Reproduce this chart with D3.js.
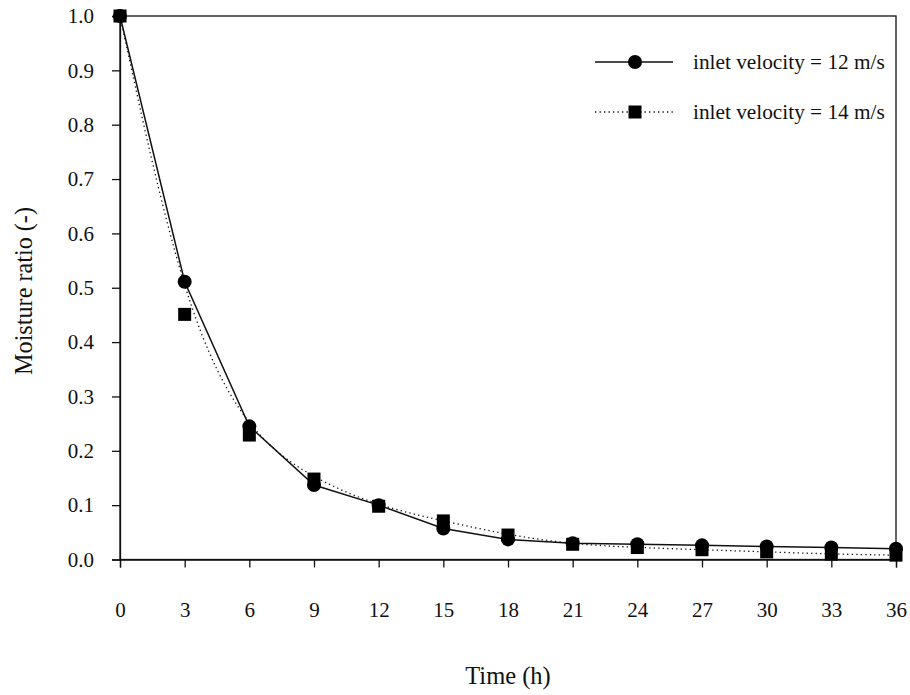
<!DOCTYPE html>
<html><head><meta charset="utf-8">
<script src="https://cdn.jsdelivr.net/npm/d3@7"></script>
<style>body{margin:0;background:#fff}svg{display:block}</style>
</head><body>
<svg id="chart" width="910" height="695" font-family="Liberation Serif"></svg>
<script>
const timeH = [0,3,6,9,12,15,18,21,24,27,30,33,36];
const mr12 = [1.0,0.511,0.245,0.137,0.100,0.057,0.037,0.030,0.028,0.026,0.024,0.022,0.020];
const mr14 = [1.0,0.451,0.229,0.148,0.098,0.071,0.045,0.028,0.022,0.018,0.014,0.010,0.008];
const xTicks = [0,3,6,9,12,15,18,21,24,27,30,33,36];
const yTicks = [0,0.1,0.2,0.3,0.4,0.5,0.6,0.7,0.8,0.9,1.0];
const seriesNames = ["inlet velocity = 12 m/s","inlet velocity = 14 m/s"];

const svg = d3.select("#chart");
const L=120, R=896, T=16, B=559.5;
const x = d3.scaleLinear().domain([0,36]).range([L,R]);
const y = d3.scaleLinear().domain([0,1]).range([B,T]);
const col = "#111";
const FF = "Liberation Serif";

svg.append("rect").attr("x",L).attr("y",T).attr("width",R-L).attr("height",B-T)
  .attr("fill","none").attr("stroke",col).attr("stroke-width",1.3);

const xa = svg.append("g").attr("transform",`translate(0,${B})`)
  .call(d3.axisBottom(x).tickValues(xTicks).tickFormat(d3.format("d")).tickSize(8).tickPadding(35));
const ya = svg.append("g").attr("transform",`translate(${L},0)`)
  .call(d3.axisLeft(y).tickValues(yTicks).tickFormat(d3.format(".1f")).tickSize(8).tickPadding(18));
[xa,ya].forEach(g=>{
  g.attr("font-family",FF).attr("font-size",21);
  g.select(".domain").attr("stroke",col).attr("stroke-width",1.3);
  g.selectAll(".tick line").attr("stroke",col).attr("stroke-width",1.3);
  g.selectAll(".tick text").attr("fill",col);
});

svg.append("text").attr("x",508).attr("y",684).attr("text-anchor","middle")
  .attr("font-family",FF).attr("font-size",24.5).attr("fill",col).text("Time (h)");
svg.append("text").attr("transform",`translate(32,291) rotate(-90)`).attr("text-anchor","middle")
  .attr("font-family",FF).attr("font-size",24.2).attr("fill",col).text("Moisture ratio (-)");

const d12 = timeH.map((t,i)=>[t,mr12[i]]);
const d14 = timeH.map((t,i)=>[t,mr14[i]]);

svg.append("path").datum(d14)
  .attr("d",d3.line().x(d=>x(d[0])).y(d=>y(d[1])).curve(d3.curveBasis))
  .attr("fill","none").attr("stroke",col).attr("stroke-width",1.3).attr("stroke-dasharray","1.3,3.2");
svg.append("path").datum(d12)
  .attr("d",d3.line().x(d=>x(d[0])).y(d=>y(d[1])).curve(d3.curveLinear))
  .attr("fill","none").attr("stroke",col).attr("stroke-width",1.5);

const sq = 13;
svg.append("g").selectAll("rect").data(d14).join("rect")
  .attr("x",d=>x(d[0])-sq/2).attr("y",d=>y(d[1])-sq/2).attr("width",sq).attr("height",sq).attr("fill","#000");
svg.append("g").selectAll("circle").data(d12).join("circle")
  .attr("cx",d=>x(d[0])).attr("cy",d=>y(d[1])).attr("r",7).attr("fill","#000");

const lg = svg.append("g").attr("font-family",FF).attr("font-size",21.3);
lg.append("line").attr("x1",595).attr("x2",673).attr("y1",62).attr("y2",62).attr("stroke",col).attr("stroke-width",1.5);
lg.append("circle").attr("cx",635).attr("cy",62).attr("r",7).attr("fill","#000");
lg.append("text").attr("x",693).attr("y",69).attr("fill",col).text(seriesNames[0]);
lg.append("line").attr("x1",595).attr("x2",673).attr("y1",112).attr("y2",112).attr("stroke",col).attr("stroke-width",1.3).attr("stroke-dasharray","1.3,3.2");
lg.append("rect").attr("x",635-sq/2).attr("y",112-sq/2).attr("width",sq).attr("height",sq).attr("fill","#000");
lg.append("text").attr("x",693).attr("y",119).attr("fill",col).text(seriesNames[1]);
</script>
</body></html>
